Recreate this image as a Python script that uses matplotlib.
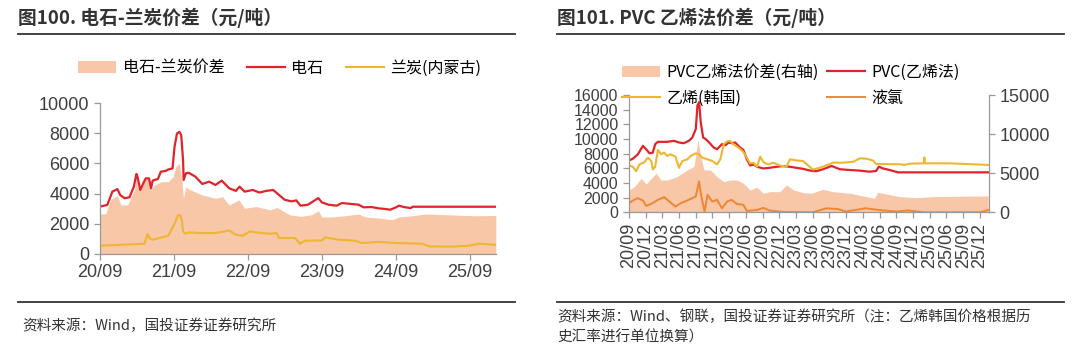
import pandas as pd
import matplotlib.pyplot as plt
import matplotlib.dates as mdates
from matplotlib.lines import Line2D

plt.rcParams['font.family'] = ['Noto Sans CJK SC', 'DejaVu Sans']

# ---- left chart: calcium carbide vs semi-coke ----
carbide_dates = ["2020-09-01", "2020-10-07", "2020-11-01", "2020-11-26", "2020-12-10", "2021-01-01",
                 "2021-01-25", "2021-02-15", "2021-02-28", "2021-03-05", "2021-03-19", "2021-04-01",
                 "2021-04-15", "2021-05-01", "2021-05-11", "2021-05-19", "2021-06-14", "2021-06-28",
                 "2021-07-22", "2021-08-04", "2021-08-25", "2021-09-04", "2021-09-16", "2021-09-28",
                 "2021-10-07", "2021-10-16", "2021-10-19", "2021-10-30", "2021-11-13", "2021-12-16",
                 "2022-01-19", "2022-02-22", "2022-03-25", "2022-04-25", "2022-06-01", "2022-07-04",
                 "2022-07-22", "2022-08-16", "2022-09-25", "2022-10-28", "2022-12-01", "2023-01-04",
                 "2023-02-07", "2023-03-01", "2023-04-04", "2023-04-28", "2023-05-19", "2023-06-25",
                 "2023-07-28", "2023-08-15", "2023-09-01", "2023-10-04", "2023-11-13", "2023-12-10",
                 "2024-01-13", "2024-03-01", "2024-03-25", "2024-05-04", "2024-06-07", "2024-07-10",
                 "2024-08-04", "2024-09-01", "2024-09-16", "2024-10-10", "2024-11-13", "2024-11-22",
                 "2026-01-07"]
carbide = [3140, 3250, 4130, 4300, 3900, 3690,
           3760, 4460, 5300, 5120, 4240, 4640,
           5010, 5010, 4350, 4860, 4970, 5450,
           5500, 5600, 5670, 7100, 7980, 8090,
           7870, 6220, 4900, 5340, 5380, 5120,
           4640, 4790, 4570, 4860, 4350, 4180,
           4460, 4130, 4240, 4070, 4180, 4240,
           3850, 3595, 3485, 3550, 3200, 3265,
           3550, 3700, 3420, 3265, 3200, 3375,
           3330, 3265, 3090, 3110, 3025, 2980,
           2935, 3090, 3200, 3110, 3040, 3130,
           3130]

semicoke_dates = ["2020-09-01", "2021-04-08", "2021-04-24", "2021-05-03", "2021-05-19", "2021-08-04",
                  "2021-09-04", "2021-09-19", "2021-10-01", "2021-10-10", "2021-10-16", "2021-10-26",
                  "2021-11-13", "2022-01-19", "2022-03-25", "2022-06-01", "2022-07-04", "2022-08-07",
                  "2022-09-10", "2022-10-13", "2022-12-19", "2023-01-22", "2023-02-01", "2023-04-22",
                  "2023-05-16", "2023-06-10", "2023-09-01", "2023-09-17", "2023-11-22", "2024-02-12",
                  "2024-03-16", "2024-06-07", "2024-09-01", "2025-01-10", "2025-02-12", "2025-06-07",
                  "2025-08-28", "2025-10-16", "2026-01-07"]
semicoke = [550, 680, 1340, 1055, 945, 1210,
            2000, 2530, 2590, 2260, 1500, 1340,
            1430, 1385, 1385, 1560, 1275, 1210,
            1500, 1430, 1340, 1385, 1055, 1060,
            680, 880, 900, 1100, 950, 880,
            730, 800, 730, 680, 500, 490,
            550, 680, 610]

spread_l_dates = ["2020-09-01", "2020-09-29", "2020-10-24", "2020-11-26", "2020-12-13", "2021-01-16",
                  "2021-02-18", "2021-02-28", "2021-03-05", "2021-03-22", "2021-04-08", "2021-04-24",
                  "2021-05-11", "2021-05-28", "2021-07-01", "2021-08-04", "2021-08-28", "2021-09-10",
                  "2021-09-27", "2021-10-10", "2021-10-18", "2021-10-30", "2021-11-13", "2022-01-19",
                  "2022-03-25", "2022-04-28", "2022-06-01", "2022-07-19", "2022-08-16", "2022-10-13",
                  "2022-12-19", "2023-01-22", "2023-03-28", "2023-05-22", "2023-07-13", "2023-08-15",
                  "2023-09-01", "2023-10-19", "2023-12-25", "2024-03-01", "2024-04-04", "2024-06-07",
                  "2024-08-13", "2024-09-16", "2024-11-22", "2025-01-25", "2025-05-04", "2025-09-16",
                  "2026-01-07"]
spread_l = [2660, 2660, 3630, 3850, 3250, 3250,
            4240, 5230, 4460, 4240, 4900, 5010,
            4240, 4570, 4790, 4790, 5120, 5780,
            6000, 4900, 3690, 4460, 4290, 3910,
            3690, 3800, 3250, 3580, 3030, 3140,
            2920, 3080, 2590, 2490, 2600, 2865,
            2450, 2450, 2535, 2645, 2450, 2380,
            2270, 2450, 2535, 2645, 2600, 2535,
            2550]

# ---- right chart: PVC ethylene route ----
pvc_dates = ["2020-09-01", "2020-09-22", "2020-10-19", "2020-11-16", "2020-12-04", "2020-12-22",
             "2021-01-09", "2021-01-22", "2021-02-06", "2021-03-28", "2021-05-04", "2021-06-01",
             "2021-06-28", "2021-07-25", "2021-08-13", "2021-09-01", "2021-09-10", "2021-09-19",
             "2021-09-28", "2021-10-11", "2021-10-25", "2021-11-13", "2021-12-08", "2021-12-26",
             "2022-01-22", "2022-02-10", "2022-02-28", "2022-03-16", "2022-04-04", "2022-05-01",
             "2022-05-19", "2022-06-07", "2022-06-25", "2022-07-13", "2022-08-01", "2022-09-05",
             "2022-10-10", "2022-11-16", "2022-12-22", "2023-01-28", "2023-03-04", "2023-04-10",
             "2023-05-16", "2023-06-20", "2023-07-28", "2023-09-13", "2023-10-28", "2023-12-22",
             "2024-02-15", "2024-04-07", "2024-05-13", "2024-05-28", "2024-06-19", "2024-07-25",
             "2024-09-10", "2026-01-15"]
pvc = [7080, 7310, 7900, 9060, 8600, 8050,
       8140, 9290, 9610, 9610, 9750, 9520,
       9430, 9750, 10200, 11360, 14570, 15030,
       12280, 10210, 9980, 9520, 8830, 8600,
       9290, 9150, 9520, 9430, 9520, 8830,
       8510, 7220, 6390, 6530, 6210, 5980,
       6070, 6210, 6300, 6210, 6070, 5930,
       5700, 5600, 5870, 6320, 5870, 5770,
       5680, 5540, 5630, 6220, 5990, 5770,
       5450, 5450]

ethylene_dates = ["2020-09-01", "2020-09-22", "2020-10-10", "2020-10-28", "2020-11-24", "2020-12-13",
                  "2021-01-01", "2021-01-09", "2021-01-22", "2021-02-06", "2021-02-23", "2021-03-12",
                  "2021-03-28", "2021-04-16", "2021-05-13", "2021-06-01", "2021-06-19", "2021-07-16",
                  "2021-08-04", "2021-09-01", "2021-09-19", "2021-10-07", "2021-11-04", "2021-11-30",
                  "2021-12-26", "2022-01-13", "2022-02-01", "2022-02-19", "2022-03-07", "2022-03-25",
                  "2022-04-22", "2022-05-19", "2022-06-07", "2022-06-25", "2022-07-13", "2022-08-01",
                  "2022-08-19", "2022-09-05", "2022-10-01", "2022-10-28", "2022-12-04", "2023-01-10",
                  "2023-01-28", "2023-03-04", "2023-04-10", "2023-05-16", "2023-06-02", "2023-06-20",
                  "2023-07-28", "2023-09-22", "2023-11-16", "2024-01-10", "2024-02-15", "2024-03-22",
                  "2024-04-28", "2024-05-13", "2024-09-19", "2024-10-16", "2024-11-13", "2025-01-28",
                  "2025-02-01", "2025-02-04", "2025-06-19", "2026-01-15"]
ethylene = [6390, 6210, 5610, 6530, 6850, 7450,
            6990, 5840, 6210, 8510, 7910, 8140,
            7680, 7910, 7590, 6070, 6990, 7220,
            7680, 8050, 7910, 7450, 7220, 6990,
            6530, 7220, 9290, 9660, 9750, 9290,
            8830, 8230, 7450, 6670, 6760, 6210,
            7590, 6850, 6530, 6760, 6390, 6210,
            7220, 7080, 6990, 6210, 5840, 5930,
            6220, 6770, 6770, 6900, 7370, 7310,
            7040, 6590, 6550, 6460, 6630, 6680,
            7500, 6680, 6680, 6460]

chlorine_dates = ["2020-09-01", "2020-09-22", "2020-10-19", "2020-11-16", "2020-12-04", "2021-01-01",
                  "2021-02-06", "2021-03-12", "2021-04-16", "2021-05-13", "2021-06-10", "2021-07-16",
                  "2021-09-01", "2021-09-19", "2021-09-28", "2021-10-07", "2021-10-19", "2021-11-04",
                  "2021-11-30", "2021-12-26", "2022-01-22", "2022-02-19", "2022-03-16", "2022-04-13",
                  "2022-05-19", "2022-06-07", "2022-08-01", "2022-09-05", "2022-10-10", "2022-12-22",
                  "2023-06-01", "2023-08-15", "2023-10-16", "2023-12-01", "2024-03-16", "2024-06-01",
                  "2024-09-01", "2024-11-01", "2025-02-01", "2025-12-01", "2026-01-15"]
chlorine = [1240, 1610, 1930, 1610, 870, 1150,
            1700, 2070, 1330, 780, 1240, 1610,
            2160, 4230, 2620, 1470, 90, 2390,
            1470, 1700, 550, 1470, 1700, 1150,
            1010, 180, 320, 600, 230, 50,
            0, 540, 450, 100, 550, 300,
            100, 250, 0, 0, 300]

spread_r_dates = ["2020-09-01", "2020-10-01", "2020-11-07", "2020-12-04", "2021-01-01", "2021-01-27",
                  "2021-02-23", "2021-03-28", "2021-05-22", "2021-07-16", "2021-08-22", "2021-09-13",
                  "2021-09-28", "2021-10-16", "2021-11-20", "2021-12-26", "2022-02-01", "2022-03-07",
                  "2022-04-13", "2022-05-19", "2022-06-25", "2022-08-01", "2022-09-05", "2022-10-10",
                  "2022-12-04", "2023-01-10", "2023-02-16", "2023-04-10", "2023-05-25", "2023-07-28",
                  "2023-09-22", "2023-12-22", "2024-03-22", "2024-05-04", "2024-05-22", "2024-07-04",
                  "2024-09-19", "2024-12-19", "2025-03-19", "2026-01-15"]
spread_r = [2860, 3280, 4350, 3620, 4350, 4990,
            4130, 4130, 4560, 5410, 5840, 9250,
            7120, 5410, 5410, 4560, 3920, 4130,
            4130, 3710, 2860, 3200, 2430, 2640,
            2640, 3500, 2860, 2520, 2430, 2940,
            2630, 2430, 2000, 1790, 2560, 2350,
            2000, 1870, 2000, 2100]

RED = '#E1232A'
GOLD = '#EDB731'
ORANGE = '#F08633'
PEACH = '#F7C7A8'
TXT = '#333333'
TICK = '#3f3f3f'
NUM_FONT = 'Liberation Sans'

d = pd.to_datetime

fig = plt.figure(figsize=(10.8, 3.46), dpi=100)


def style_axis(ax):
    for s in ['top', 'right']:
        ax.spines[s].set_visible(False)
    for s in ['left', 'bottom', 'right']:
        ax.spines[s].set_color('#999999')
        ax.spines[s].set_linewidth(0.9)
    ax.tick_params(colors='#999999', labelcolor=TICK, length=4, width=0.9)


# ---------------- left chart ----------------
ax1 = fig.add_axes([100 / 1080, 1 - 254 / 346, 396 / 1080, 151 / 346])
ax1.fill_between(d(spread_l_dates), spread_l, 0, color=PEACH, lw=0, label='电石-兰炭价差')
ax1.plot(d(carbide_dates), carbide, color=RED, lw=1.6, label='电石')
ax1.plot(d(semicoke_dates), semicoke, color=GOLD, lw=1.5, label='兰炭(内蒙古)')
ax1.set_ylim(0, 10000)
ax1.set_yticks(range(0, 10001, 2000))
ax1.set_xlim(d('2020-09-01'), d('2026-01-08'))
ax1.xaxis.set_major_locator(mdates.MonthLocator(bymonth=[9]))
ax1.xaxis.set_major_formatter(mdates.DateFormatter('%y/%m'))
style_axis(ax1)
for lab in ax1.get_xticklabels() + ax1.get_yticklabels():
    lab.set_fontfamily(NUM_FONT)
    lab.set_fontsize(13)
ax1.legend(loc='center left', bbox_to_anchor=(70 / 1080, 1 - 68 / 346), bbox_transform=fig.transFigure,
           ncol=3, frameon=False, fontsize=11.5, handlelength=2.4, handletextpad=0.4,
           columnspacing=1.4, borderpad=0)

# ---------------- right chart ----------------
ax2 = fig.add_axes([629 / 1080, 1 - 212.3 / 346, 360 / 1080, 117.3 / 346])
ax2r = ax2.twinx()
ax2r.fill_between(d(spread_r_dates), spread_r, 0, color=PEACH, lw=0)
ax2r.set_ylim(0, 15000)
ax2r.set_yticks([0, 5000, 10000, 15000])
ax2.set_zorder(ax2r.get_zorder() + 1)
ax2.patch.set_visible(False)
ax2.plot(d(pvc_dates), pvc, color=RED, lw=1.6)
ax2.plot(d(ethylene_dates), ethylene, color=GOLD, lw=1.5)
ax2.plot(d(chlorine_dates), chlorine, color=ORANGE, lw=1.4)
ax2.set_ylim(0, 16000)
ax2.set_yticks(range(0, 16001, 2000))
ax2.set_xlim(d('2020-09-01'), d('2026-01-20'))
ax2.xaxis.set_major_locator(mdates.MonthLocator(bymonth=[3, 6, 9, 12]))
ax2.xaxis.set_major_formatter(mdates.DateFormatter('%y/%m'))
style_axis(ax2)
style_axis(ax2r)
ax2r.spines['right'].set_visible(True)
ax2r.spines['left'].set_visible(False)
ax2r.spines['bottom'].set_visible(False)
ax2.tick_params(axis='x', labelrotation=90)
for lab in ax2.get_xticklabels() + ax2r.get_yticklabels():
    lab.set_fontfamily(NUM_FONT)
    lab.set_fontsize(13)
for lab in ax2.get_yticklabels():
    lab.set_fontfamily(NUM_FONT)
    lab.set_fontsize(11.5)

handles = [
    plt.Rectangle((0, 0), 1, 1, color=PEACH, lw=0),
    Line2D([], [], color=GOLD, lw=1.5),
    Line2D([], [], color=RED, lw=1.6),
    Line2D([], [], color=ORANGE, lw=1.4),
]
labels = ['PVC乙烯法价差(右轴)', '乙烯(韩国)', 'PVC(乙烯法)', '液氯']
leg = ax2.legend(handles, labels, loc='upper left', bbox_to_anchor=(614 / 1080, 1 - 56 / 346),
                 bbox_transform=fig.transFigure, ncol=2, frameon=False, fontsize=11.5,
                 handlelength=2.4, handletextpad=0.4, columnspacing=0.5, labelspacing=0.55,
                 borderpad=0)
leg.set_zorder(10)

# ---------------- titles, rules, sources ----------------
fig.text(18 / 1080, 1 - 18 / 346, '图100. 电石-兰炭价差（元/吨）', fontsize=13.5, fontweight='bold',
         color=TXT, va='center', ha='left')
fig.text(557 / 1080, 1 - 18 / 346, '图101. PVC 乙烯法价差（元/吨）', fontsize=13.5, fontweight='bold',
         color=TXT, va='center', ha='left')
for x0, x1 in [(18, 515), (557, 1064)]:
    fig.add_artist(Line2D([x0 / 1080, x1 / 1080], [1 - 34 / 346] * 2, color='#333333', lw=1.3))
    fig.add_artist(Line2D([x0 / 1080, x1 / 1080], [1 - 302 / 346] * 2, color='#333333', lw=1.3))

fig.text(22 / 1080, 1 - 326 / 346, '资料来源：Wind，国投证券证券研究所', fontsize=10.5,
         color=TXT, va='center', ha='left', style='italic')
fig.text(557 / 1080, 1 - 317 / 346, '资料来源：Wind、钢联，国投证券证券研究所（注：乙烯韩国价格根据历',
         fontsize=10.5, color=TXT, va='center', ha='left', style='italic')
fig.text(557 / 1080, 1 - 337 / 346, '史汇率进行单位换算）', fontsize=10.5, color=TXT,
         va='center', ha='left', style='italic')

fig.savefig('out.png', dpi=100)
